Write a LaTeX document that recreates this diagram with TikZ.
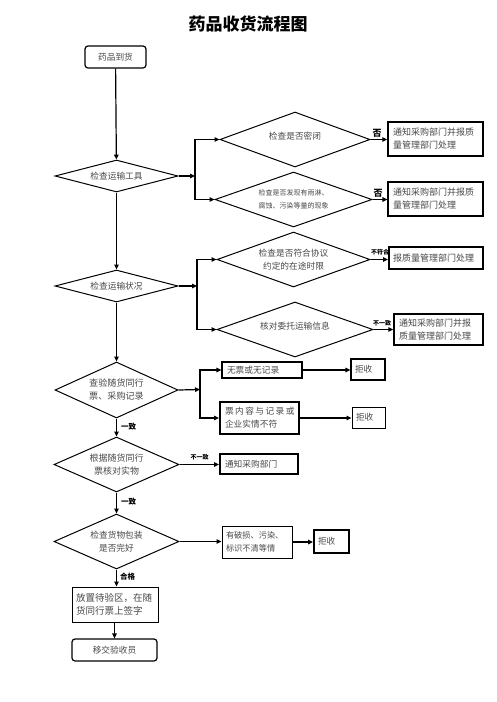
\documentclass[tikz,border=0pt]{standalone}
\usepackage{fontspec}
\setmainfont{Noto Sans CJK SC}
\usetikzlibrary{shapes.geometric,arrows.meta}
\definecolor{txt}{gray}{0.28}
\tikzset{
  dia/.style={draw, diamond, shape aspect=3, inner sep=0pt, line width=1pt, text=txt, align=center, font=\fontsize{8.7}{13}\selectfont},
  bx/.style={draw, rectangle, line width=1pt, inner sep=0pt, inner xsep=5pt, align=left, text=txt, font=\fontsize{8.7}{13}\selectfont},
  rbox/.style={draw, rectangle, rounded corners=3pt, line width=1.2pt, inner sep=0pt, text=txt, font=\fontsize{8.7}{13}\selectfont},
  arr/.style={line width=1.2pt, -{Triangle[length=5pt,width=4.5pt]}},
  lbl/.style={inner sep=0pt, font=\bfseries\fontsize{7.5}{8}\selectfont},
  slbl/.style={inner sep=0pt, font=\bfseries\fontsize{6}{6}\selectfont},
}
\begin{document}
\begin{tikzpicture}[x=1pt,y=-1pt]
\useasboundingbox (0,0) rectangle (496,702);
\node[inner sep=0pt, font=\bfseries\fontsize{17}{17}\selectfont] (title) at (248,24) {药品收货流程图};
% main column
\node[rbox, minimum width=61pt, minimum height=22pt] (start) at (115.5,57) {药品到货};
\node[dia, minimum width=123pt, minimum height=32pt] (d1) at (116.5,176) {检查运输工具};
\node[dia, minimum width=123pt, minimum height=32pt] (d2) at (116.5,286) {检查运输状况};
\node[dia, minimum width=123pt, minimum height=56pt, font=\fontsize{9.1}{13}\selectfont] (d3) at (116.5,390) {查验随货同行\\票、采购记录};
\node[dia, minimum width=125pt, minimum height=55pt, font=\fontsize{9}{13}\selectfont] (d4) at (116.5,464.5) {根据随货同行\\票核对实物};
\node[dia, minimum width=125pt, minimum height=55pt] (d5) at (116.5,541.5) {检查货物包装\\是否完好};
\node[bx, minimum width=86pt, minimum height=35pt, text width=78pt, inner xsep=4pt, font=\fontsize{9.5}{13}\selectfont] (b5) at (115,604.5) {放置待验区，在随\\货同行票上签字};
\node[rbox, minimum width=85pt, minimum height=22pt] (end) at (114.5,650) {移交验收员};
% transport tool branch
\node[dia, minimum width=150pt, minimum height=55pt] (d1a) at (295,139.5) {\raisebox{8pt}{检查是否密闭}};
\node[dia, minimum width=157pt, minimum height=55pt, font=\fontsize{7}{13}\selectfont] (d1b) at (293.5,199.5) {检查是否发现有雨淋、\\腐蚀、污染等量的现象};
\node[bx, line width=1.5pt, minimum width=95pt, minimum height=34pt, text width=85pt, font=\fontsize{9}{13}\selectfont] (r1) at (435.5,139) {通知采购部门并报质\\量管理部门处理};
\node[bx, line width=1.2pt, minimum width=95pt, minimum height=34pt, text width=85pt, font=\fontsize{9}{13}\selectfont] (r2) at (435.5,199) {通知采购部门并报质\\量管理部门处理};
% transport status branch
\node[dia, minimum width=153pt, minimum height=55pt] (d2a) at (293.5,259.5) {检查是否符合协议\\约定的在途时限};
\node[dia, minimum width=156pt, minimum height=55pt] (d2b) at (295,329.5) {\raisebox{8pt}{核对委托运输信息}};
\node[bx, line width=1.8pt, minimum width=94pt, minimum height=22pt, text width=86pt, inner xsep=4pt, font=\fontsize{9}{13}\selectfont] (r3) at (436,258) {报质量管理部门处理};
\node[bx, line width=1.5pt, minimum width=89pt, minimum height=31pt, text width=79pt, font=\fontsize{9}{13}\selectfont] (r4) at (438.5,329.5) {通知采购部门并报\\质量管理部门处理};
% documents branch
\node[bx, line width=1.2pt, minimum width=80pt, minimum height=16pt, text width=70pt] (b1) at (262,370) {无票或无记录};
\node[bx, line width=1.2pt, minimum width=34pt, minimum height=21pt, text width=26pt, inner xsep=4pt] (x1) at (368,369.5) {拒收};
\node[bx, line width=1.8pt, minimum width=79pt, minimum height=32pt, text width=69pt] (b2) at (259.5,418) {票\,内\,容\,与\,记\,录\,或\\企业实情不符};
\node[bx, line width=1pt, minimum width=33pt, minimum height=21pt, text width=25pt, inner xsep=4pt] (x2) at (368.5,417.5) {拒收};
% goods check
\node[bx, line width=1.8pt, minimum width=78pt, minimum height=20pt, text width=68pt] (b3) at (259,464) {通知采购部门};
\node[bx, line width=1pt, minimum width=70pt, minimum height=32pt, text width=62pt, inner xsep=4pt, font=\fontsize{8.2}{13}\selectfont] (b4) at (257,542) {有破损、污染、\\标识不清等情};
\node[bx, line width=1.8pt, minimum width=35pt, minimum height=23pt, text width=27pt, inner xsep=4pt] (x3) at (331.5,541.5) {拒收};
% junction coordinates
\coordinate (s1) at (195,176);
\coordinate (s2) at (197,286);
\coordinate (s3) at (200,389.5);
% main flow
\draw[arr] (start) -- (d1);
\draw[arr] (d1) -- (d2);
\draw[arr] (d2) -- (d3);
\draw[arr] (d3) -- (d4);
\draw[arr] (d4) -- (d5);
\draw[arr] (d5.south) -- (d5.south |- b5.north);
\draw[arr] (b5.south -| end.north) -- (end.north);
% branches
\draw[arr] (d1.east) -- (s1);
\draw[arr] (s1) |- (d1a.west);
\draw[arr] (s1) |- (d1b.west);
\draw[arr] (d1a.east) -- (r1.west |- d1a.east);
\draw[arr] (d1b.east) -- (r2.west |- d1b.east);
\draw[arr] (d2.east) -- (s2);
\draw[arr] (s2) |- (d2a.west);
\draw[arr] (s2) |- (d2b.west);
\draw[arr] (d2a.east) -- (r3.west |- d2a.east);
\draw[arr] (d2b.east) -- (r4.west |- d2b.east);
\draw[arr] (d3.east) -- (s3);
\draw[arr] (s3) |- (b1.west);
\draw[arr] (s3) |- (b2.west);
\draw[arr] (b1.east) -- (x1.west |- b1.east);
\draw[arr] (b2.east) -- (x2.west |- b2.east);
\draw[arr] (d4.east) -- (b3.west |- d4.east);
\draw[arr] (d5.east) -- (b4.west |- d5.east);
\draw[arr] (b4.east) -- (x3.west |- b4.east);
% labels
\node[inner sep=0pt, font=\bfseries\fontsize{9}{9}\selectfont] (n1) at (377,133) {否};
\node[inner sep=0pt, font=\bfseries\fontsize{9}{9}\selectfont] (n2) at (378,193) {否};
\node[slbl] (n3) at (380,252.5) {不符合};
\node[slbl] (n4) at (382,323.5) {不一致};
\node[lbl] (n5) at (128.5,427) {一致};
\node[slbl] (n6) at (199.5,457) {不一致};
\node[lbl] (n7) at (128.5,502) {一致};
\node[lbl] (n8) at (127.5,577) {合格};
\end{tikzpicture}
\end{document}
